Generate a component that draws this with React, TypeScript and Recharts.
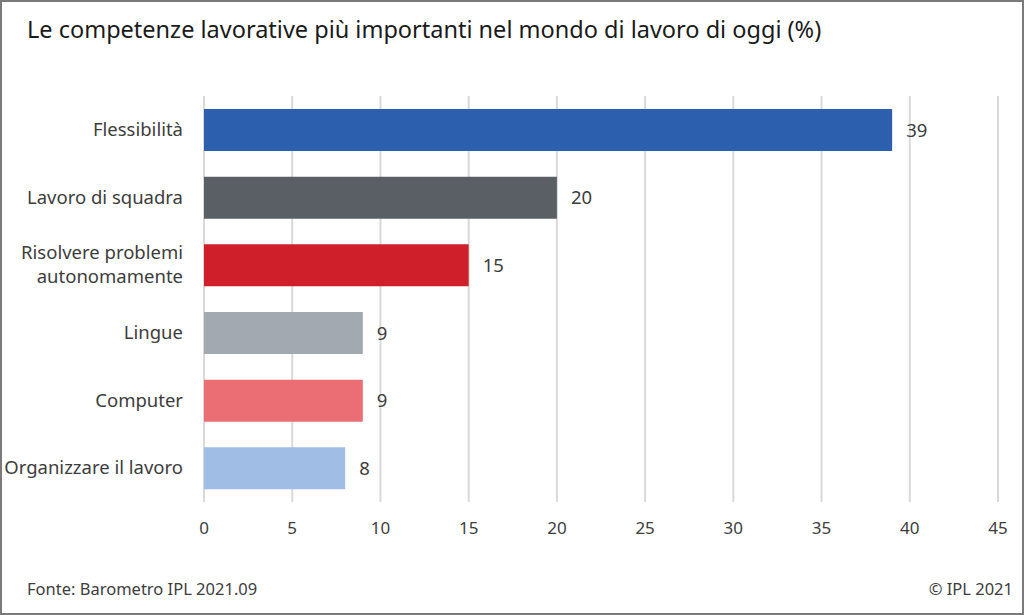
import { BarChart, Bar, XAxis, YAxis, CartesianGrid, Cell, LabelList } from "recharts";

const CATEGORIES = [
  "Flessibilità",
  "Lavoro di squadra",
  "Risolvere problemi autonomamente",
  "Lingue",
  "Computer",
  "Organizzare il lavoro",
];
const VALUES = [39, 20, 15, 9, 9, 8];
const COLORS = ["#2c5fad", "#5a5f66", "#cf1f2a", "#a2a9b1", "#ea6e74", "#a0bde6"];
const X_TICKS = [0, 5, 10, 15, 20, 25, 30, 35, 40, 45];

const FONT = "'Noto Sans', sans-serif";
const TEXT = "#3d3d3d";

const data = CATEGORIES.map((name, i) => ({ name, value: VALUES[i] }));

// word-wrap long category labels into lines
const wrap = (label: string, max = 24) => {
  const lines: string[] = [];
  let cur = "";
  label.split(" ").forEach((w) => {
    if (cur && (cur + " " + w).length > max) {
      lines.push(cur);
      cur = w;
    } else {
      cur = cur ? cur + " " + w : w;
    }
  });
  if (cur) lines.push(cur);
  return lines;
};

const CategoryTick = ({ x, y, payload }: any) => {
  const lines = wrap(payload.value);
  const lh = 24;
  const start = -((lines.length - 1) * lh) / 2;
  return (
    <text x={x} y={y} textAnchor="end" fill={TEXT} fontSize={18.5} fontFamily={FONT}>
      {lines.map((l, i) => (
        <tspan key={i} x={x} dy={i === 0 ? start + 6 : lh}>
          {l}
        </tspan>
      ))}
    </text>
  );
};

const App = () => {
  return (
    <div style={{ position: "fixed", top: 0, left: 0, width: 1024, height: 615, background: "#fff", fontFamily: FONT }}>
      <div style={{ position: "absolute", left: 27, top: 13, fontSize: 23.5, color: "#1a1a1a" }}>
        Le competenze lavorative più importanti nel mondo di lavoro di oggi (%)
      </div>
      <BarChart
        width={1024}
        height={615}
        data={data}
        layout="vertical"
        margin={{ top: 96, right: 26, left: 0, bottom: 73 }}
        barCategoryGap={0}
        style={{ position: "absolute", top: 0, left: 0 }}
      >
        <CartesianGrid horizontal={false} stroke="#d9d9d9" strokeWidth={2} />
        <XAxis
          type="number"
          domain={[0, 45]}
          ticks={X_TICKS}
          axisLine={false}
          tickLine={false}
          tickMargin={14}
          height={40}
          tick={{ fill: TEXT, fontSize: 17, fontFamily: FONT }}
        />
        <YAxis
          type="category"
          dataKey="name"
          width={204}
          axisLine={false}
          tickLine={false}
          tickMargin={15}
          tick={<CategoryTick />}
        />
        <Bar dataKey="value" barSize={42} isAnimationActive={false}>
          {data.map((d, i) => (
            <Cell key={d.name} fill={COLORS[i]} />
          ))}
          <LabelList dataKey="value" position="right" offset={14} fill={TEXT} fontSize={18.5} fontFamily={FONT} />
        </Bar>
      </BarChart>
      <div style={{ position: "absolute", left: 27, top: 577, fontSize: 16.5, color: TEXT }}>Fonte: Barometro IPL 2021.09</div>
      <div style={{ position: "absolute", right: 11, top: 577, fontSize: 16.5, color: TEXT }}>© IPL 2021</div>
      <div
        style={{
          position: "absolute",
          inset: 0,
          border: "2px solid #7a7a7a",
          pointerEvents: "none",
        }}
      />
    </div>
  );
};

export default App;
